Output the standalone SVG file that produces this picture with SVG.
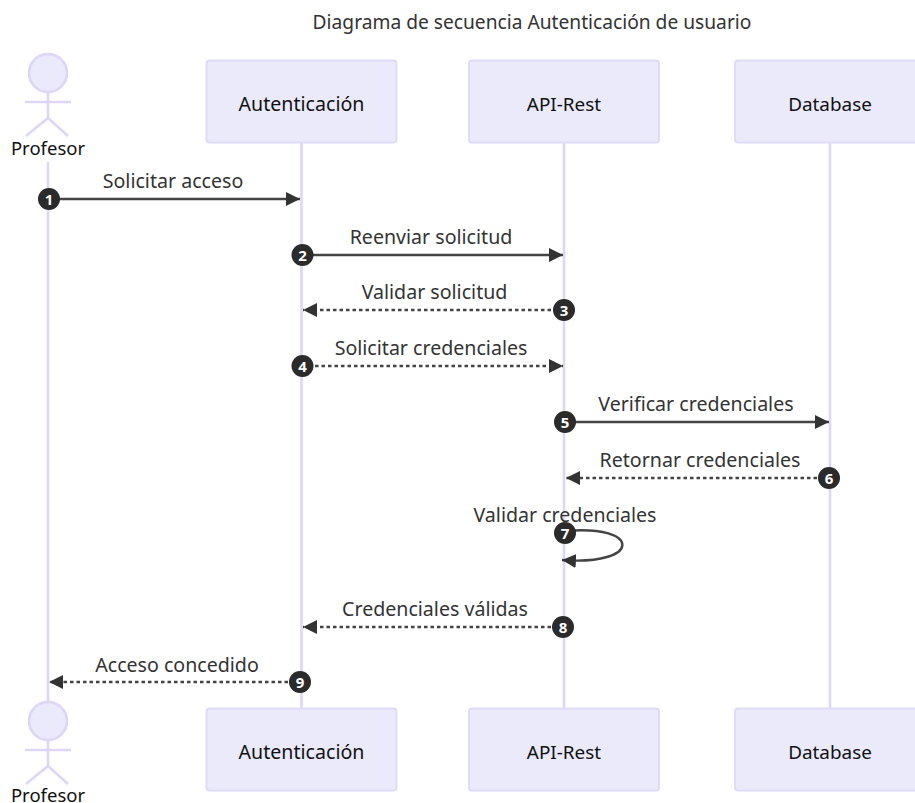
<svg xmlns="http://www.w3.org/2000/svg" width="915" height="803" viewBox="0 0 915 803">
<style>
text{font-family:"Noto Sans","Open Sans","Liberation Sans",sans-serif;font-size:19.6px;text-anchor:middle}
.t{fill:#111}
.s{fill:#111;font-size:18.900px}
.a{fill:#111;font-size:18.500px}
.m{fill:#333}
.h{fill:#333;font-size:19.200px}
.life{stroke:#dfd6f5;stroke-width:2.600;fill:none}
.box{fill:#eaeafb;stroke:#e0dbf7;stroke-width:2}
.act{fill:#eaeafb;stroke:#dfd6f5;stroke-width:2.600}
.sol{stroke:#444;stroke-width:2.400;fill:none;marker-end:url(#a)}
.dash{stroke:#444;stroke-width:2.400;fill:none;stroke-dasharray:3.500 3;marker-end:url(#a)}
.bad{fill:#2b2b2b}
.n{fill:#fff;font-size:15px;font-weight:700}
</style>
<defs><marker id="a" markerUnits="userSpaceOnUse" markerWidth="15" markerHeight="14" refX="14" refY="7" orient="auto"><path d="M0 0L14 7L0 14Z" fill="#333"/></marker></defs>
<rect width="915" height="803" fill="#fff"/>
<text x="532" y="29" class="h">Diagrama de secuencia Autenticación de usuario</text>
<g id="lifelines">
<line class="life" x1="48" y1="162" x2="48" y2="702"/>
<line class="life" x1="301.500" y1="143" x2="301.500" y2="708"/>
<line class="life" x1="564" y1="143" x2="564" y2="708"/>
<line class="life" x1="830" y1="143" x2="830" y2="708"/>
</g>
<g id="connectors">
<path class="sol" d="M48 199H300"/>
<path class="sol" d="M302 255H563"/>
<path class="dash" d="M564 310H303"/>
<path class="dash" d="M302 366H563"/>
<path class="sol" d="M565 422H829"/>
<path class="dash" d="M830 478H566"/>
<path class="sol" d="M565 531C642 524 642 566 562 560"/>
<path class="dash" d="M564 627H303"/>
<path class="dash" d="M301 682H49"/>
</g>
<g id="actor-top"><circle class="act" cx="48" cy="73" r="19"/><path class="life" d="M48 92V118M25 102H71M48 118L26 136M48 118L68 136"/><text class="a" x="48" y="154.500">Profesor</text></g>
<g id="actor-bottom"><circle class="act" cx="48" cy="721" r="19"/><path class="life" d="M48 740V766M25 750H71M48 766L26 784M48 766L68 784"/><text class="a" x="48" y="801.500">Profesor</text></g>
<g id="auth-top"><rect class="box" x="206.500" y="60.500" width="190" height="82" rx="3"/><text class="t" x="301.500" y="110.500">Autenticación</text></g>
<g id="api-top"><rect class="box" x="469" y="60.500" width="190" height="82" rx="3"/><text class="s" x="564" y="110.500">API-Rest</text></g>
<g id="db-top"><rect class="box" x="735" y="60.500" width="190" height="82" rx="3"/><text class="s" x="830" y="110.500">Database</text></g>
<g id="auth-bottom"><rect class="box" x="206.500" y="708.500" width="190" height="82" rx="3"/><text class="t" x="301.500" y="758.500">Autenticación</text></g>
<g id="api-bottom"><rect class="box" x="469" y="708.500" width="190" height="82" rx="3"/><text class="s" x="564" y="758.500">API-Rest</text></g>
<g id="db-bottom"><rect class="box" x="735" y="708.500" width="190" height="82" rx="3"/><text class="s" x="830" y="758.500">Database</text></g>
<g id="labels">
<text class="m" x="173" y="187.500">Solicitar acceso</text>
<text class="m" x="431" y="243.500">Reenviar solicitud</text>
<text class="m" x="434.500" y="298.500">Validar solicitud</text>
<text class="m" x="431" y="354.500">Solicitar credenciales</text>
<text class="m" x="696" y="410.500">Verificar credenciales</text>
<text class="m" x="700" y="466.500">Retornar credenciales</text>
<text class="m" x="565" y="521.500">Validar credenciales</text>
<text class="m" x="435" y="616">Credenciales válidas</text>
<text class="m" x="177" y="672">Acceso concedido</text>
</g>
<g id="seq1"><circle class="bad" cx="49" cy="199" r="11"/><text class="n" x="49" y="204.500">1</text></g>
<g id="seq2"><circle class="bad" cx="302.500" cy="255" r="11"/><text class="n" x="302.500" y="260.500">2</text></g>
<g id="seq3"><circle class="bad" cx="564" cy="310" r="11"/><text class="n" x="564" y="315.500">3</text></g>
<g id="seq4"><circle class="bad" cx="302.500" cy="366" r="11"/><text class="n" x="302.500" y="371.500">4</text></g>
<g id="seq5"><circle class="bad" cx="565" cy="422" r="11"/><text class="n" x="565" y="427.500">5</text></g>
<g id="seq6"><circle class="bad" cx="829" cy="478" r="11"/><text class="n" x="829" y="483.500">6</text></g>
<g id="seq7"><circle class="bad" cx="565" cy="533" r="11"/><text class="n" x="565" y="538.500">7</text></g>
<g id="seq8"><circle class="bad" cx="563" cy="627" r="11"/><text class="n" x="563" y="632.500">8</text></g>
<g id="seq9"><circle class="bad" cx="300" cy="682" r="11"/><text class="n" x="300" y="687.500">9</text></g>
</svg>
